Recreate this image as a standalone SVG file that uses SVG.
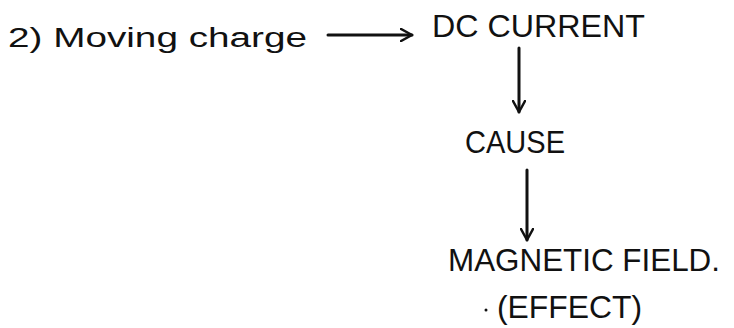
<svg xmlns="http://www.w3.org/2000/svg" width="734" height="328" viewBox="0 0 734 328">
<style>
.t{font-family:"Liberation Sans","DejaVu Sans",sans-serif;fill:#111}
.c{stroke:#111;stroke-width:3;fill:none;stroke-linecap:round;stroke-linejoin:round}
</style>
<defs>
<marker id="ah" viewBox="0 0 14 14" refX="12" refY="7" markerWidth="14" markerHeight="14" markerUnits="userSpaceOnUse" orient="auto">
<path d="M1,1 L12,7 L1,13" fill="none" stroke="#111" stroke-width="2.5" stroke-linecap="round" stroke-linejoin="round"/>
</marker>
</defs>
<rect width="734" height="328" fill="#fff"/>
<g id="n-moving"><text class="t" x="8" y="47" font-size="27" textLength="299" lengthAdjust="spacingAndGlyphs">2) Moving charge</text></g>
<g id="n-dc"><text class="t" x="432" y="37" font-size="31" textLength="213" lengthAdjust="spacingAndGlyphs">DC CURRENT</text></g>
<g id="n-cause"><text class="t" x="465" y="153" font-size="32" textLength="100" lengthAdjust="spacingAndGlyphs">CAUSE</text></g>
<g id="n-field"><text class="t" x="448" y="271" font-size="31" textLength="272" lengthAdjust="spacingAndGlyphs">MAGNETIC FIELD.</text></g>
<g id="n-effect"><circle cx="486" cy="310" r="1.5" fill="#111"/>
<text class="t" x="497" y="318" font-size="32" textLength="145" lengthAdjust="spacingAndGlyphs">(EFFECT)</text></g>
<g id="connectors" class="c">
<line x1="328" y1="35" x2="412" y2="35" marker-end="url(#ah)"/>
<line x1="519" y1="48" x2="519" y2="112" marker-end="url(#ah)"/>
<line x1="527" y1="170" x2="527" y2="240" marker-end="url(#ah)"/>
</g>
</svg>
